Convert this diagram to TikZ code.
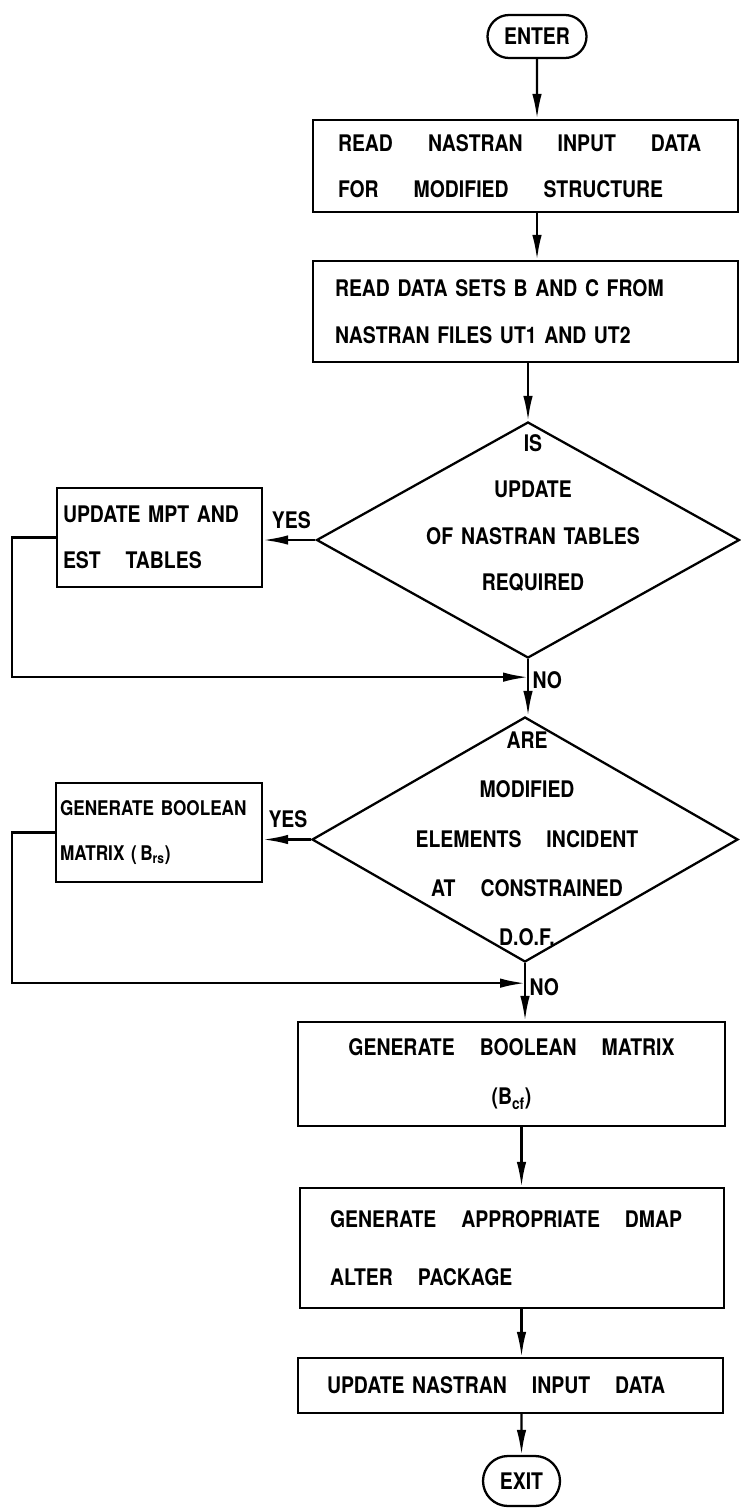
\documentclass[tikz,border=0pt]{standalone}
\usepackage{fontspec}
\setmainfont{TeX Gyre Heros}[FakeStretch=0.85]
\usetikzlibrary{shapes.geometric, shapes.misc, arrows.meta, positioning}
\newcommand{\wgap}{\hspace{0.5cm}}
\newcommand{\wwgap}{\hspace{0.7cm}}

\begin{document}
\begin{tikzpicture}[
  line width=1.3pt,
  txt/.style={font={\bfseries\fontsize{13}{26.5}\selectfont\spaceskip=4.5pt\relax}},
  term/.style={rounded rectangle, draw, txt, inner sep=0pt},
  procbox/.style={draw, txt, align=left, inner ysep=0pt},
  decision/.style={diamond, draw, inner sep=0pt},
  flowarrow/.style={-{Latex[length=5mm,width=1.9mm]}},
  yesno/.style={txt, inner sep=2pt}
]
\useasboundingbox (0,0) rectangle (14.8,-30.16);

% Main column
\node[term, minimum width=1.98cm, minimum height=0.86cm] (enter) at (10.74,-0.73) {ENTER};
\node[procbox, minimum width=8.5cm, minimum height=1.84cm, text width=7.5cm, inner xsep=0.5cm] (readin) at (10.51,-3.32) {READ\wwgap NASTRAN\wwgap INPUT\wwgap DATA\\FOR\wwgap MODIFIED\wwgap STRUCTURE};
\node[procbox, minimum width=8.5cm, minimum height=2.02cm, text width=7.62cm, inner xsep=0.44cm] (readsets) at (10.51,-6.23) {READ DATA SETS B AND C FROM\\NASTRAN FILES UT1 AND UT2};

% First decision
\node[decision, minimum width=8.46cm, minimum height=4.72cm] (isupd) at (10.56,-10.8) {};
\node[txt, align=center] (isupdtxt) at (10.66,-10.26) {IS\\UPDATE\\OF NASTRAN TABLES\\REQUIRED};
\node[procbox, minimum width=4.1cm, minimum height=1.98cm, text width=3.86cm, inner xsep=0.12cm] (updtab) at (3.19,-10.75) {UPDATE MPT AND\\EST\wgap TABLES};
\coordinate (j1) at ([yshift=-0.36cm]isupd.south);

% Second decision
\node[decision, minimum width=8.52cm, minimum height=4.9cm] (incid) at (10.5,-16.79) {};
\node[txt, align=center, font={\bfseries\fontsize{13}{28}\selectfont\spaceskip=4.5pt\relax}] (incidtxt) at (10.54,-16.78) {ARE\\MODIFIED\\ELEMENTS\wgap INCIDENT\\AT\wgap CONSTRAINED\\D.O.F.};
\node[procbox, minimum width=4.12cm, minimum height=1.98cm, text width=3.96cm, inner xsep=0.08cm, font={\bfseries\fontsize{11.5}{26}\selectfont\spaceskip=4.5pt\relax}] (genbrs) at (3.18,-16.65) {GENERATE BOOLEAN\\MATRIX (\,B\textsubscript{rs})};
\coordinate (j2) at ([yshift=-0.4cm]incid.south);

% Lower column
\node[procbox, align=center, minimum width=8.54cm, minimum height=2.08cm, text width=7.74cm, inner xsep=0.4cm, font={\bfseries\fontsize{13}{27.8}\selectfont\spaceskip=4.5pt\relax}] (genbcf) at (10.23,-21.48) {GENERATE\wgap BOOLEAN\wgap MATRIX\\(B\textsubscript{cf})};
\node[procbox, minimum width=8.48cm, minimum height=2.4cm, text width=7.28cm, inner xsep=0.6cm] (dmap) at (10.24,-24.96) {GENERATE\wgap APPROPRIATE\wgap DMAP\\[0.24cm]ALTER\wgap PACKAGE};
\node[procbox, minimum width=8.5cm, minimum height=1.1cm, text width=7.34cm, inner xsep=0.58cm] (updin) at (10.21,-27.71) {UPDATE NASTRAN\wgap INPUT\wgap DATA};
\node[term, minimum width=1.54cm, minimum height=1.0cm] (exit) at (10.43,-29.62) {EXIT};

% Connectors
\draw[flowarrow] (enter) -- (enter |- readin.north);
\draw[flowarrow] (readin.south -| enter) -- (readsets.north -| enter);
\draw[flowarrow] (readsets.south -| isupd) -- (isupd.north);
\draw[flowarrow] (isupd.west) -- (isupd.west -| updtab.east) node[yesno, above=4pt, pos=0.46] {YES};
\draw[flowarrow] (updtab.west) -- ++(-0.88,0) |- (j1);
\draw[flowarrow] (isupd.south) -- (isupd.south |- incid.north) node[yesno, right, pos=0.37] {NO};
\draw[flowarrow] (incid.west) -- (incid.west -| genbrs.east) node[yesno, above=4pt, pos=0.48] {YES};
\draw[flowarrow] (genbrs.west) -- ++(-0.86,0) |- (j2);
\draw[flowarrow] (incid.south) -- (incid.south |- genbcf.north) node[yesno, right, pos=0.42] {NO};
\draw[flowarrow] (genbcf.south -| exit) -- (dmap.north -| exit);
\draw[flowarrow] (dmap.south -| exit) -- (updin.north -| exit);
\draw[flowarrow] (updin.south -| exit) -- (exit);

\end{tikzpicture}
\end{document}
